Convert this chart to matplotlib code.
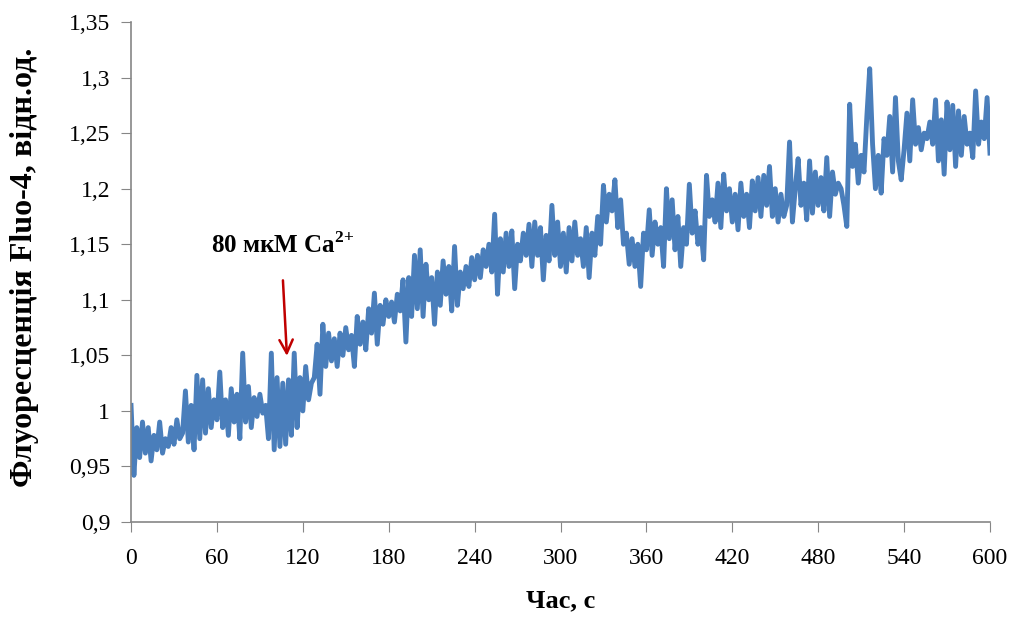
import numpy as np
import matplotlib
matplotlib.use('Agg')
import matplotlib.pyplot as plt
from matplotlib.ticker import FuncFormatter, MultipleLocator

plt.rcParams['font.family'] = ['Liberation Serif', 'DejaVu Serif']
plt.rcParams['mathtext.fontset'] = 'custom'
plt.rcParams['mathtext.rm'] = 'Liberation Serif'
plt.rcParams['mathtext.bf'] = 'Liberation Serif:bold'

fluo = [
    1.005, 0.942, 0.985, 0.958, 0.990, 0.962, 0.985, 0.955, 0.978, 0.965,
    0.990, 0.962, 0.975, 0.968, 0.985, 0.970, 0.992, 0.975, 0.980, 1.018,
    0.972, 1.005, 0.965, 1.032, 0.975, 1.028, 0.980, 1.020, 0.985, 1.010,
    0.992, 1.035, 0.985, 1.010, 0.978, 1.020, 0.990, 1.015, 0.975, 1.052,
    0.990, 1.022, 0.985, 1.012, 0.995, 1.015, 0.998, 1.005, 0.975, 1.052,
    0.965, 1.030, 0.968, 1.025, 0.970, 1.028, 0.978, 1.052, 0.985, 1.030,
    1.000, 1.040, 1.010, 1.025, 1.030, 1.060, 1.015, 1.078, 1.040, 1.070,
    1.045, 1.065, 1.040, 1.070, 1.050, 1.075, 1.055, 1.068, 1.040, 1.085,
    1.060, 1.080, 1.055, 1.092, 1.070, 1.106, 1.060, 1.095, 1.078, 1.100,
    1.085, 1.098, 1.080, 1.105, 1.090, 1.118, 1.062, 1.120, 1.085, 1.140,
    1.092, 1.145, 1.085, 1.132, 1.100, 1.120, 1.078, 1.125, 1.095, 1.135,
    1.105, 1.130, 1.090, 1.148, 1.095, 1.125, 1.110, 1.130, 1.112, 1.138,
    1.118, 1.140, 1.120, 1.145, 1.130, 1.150, 1.125, 1.177, 1.105, 1.155,
    1.125, 1.160, 1.130, 1.162, 1.110, 1.150, 1.135, 1.160, 1.140, 1.168,
    1.130, 1.170, 1.140, 1.165, 1.118, 1.158, 1.135, 1.185, 1.140, 1.170,
    1.130, 1.160, 1.125, 1.165, 1.135, 1.170, 1.140, 1.155, 1.130, 1.165,
    1.120, 1.160, 1.140, 1.175, 1.150, 1.203, 1.170, 1.195, 1.180, 1.208,
    1.165, 1.190, 1.150, 1.160, 1.132, 1.155, 1.130, 1.150, 1.112, 1.160,
    1.145, 1.181, 1.140, 1.170, 1.150, 1.165, 1.130, 1.200, 1.155, 1.190,
    1.145, 1.175, 1.130, 1.165, 1.150, 1.204, 1.160, 1.180, 1.150, 1.165,
    1.136, 1.212, 1.175, 1.190, 1.170, 1.205, 1.165, 1.213, 1.180, 1.200,
    1.170, 1.195, 1.163, 1.205, 1.175, 1.195, 1.165, 1.207, 1.180, 1.210,
    1.175, 1.212, 1.185, 1.220, 1.175, 1.200, 1.170, 1.195, 1.175, 1.185,
    1.242, 1.170, 1.200, 1.227, 1.185, 1.205, 1.172, 1.225, 1.178, 1.215,
    1.185, 1.210, 1.180, 1.228, 1.175, 1.215, 1.195, 1.205, 1.200, 1.185,
    1.166, 1.276, 1.220, 1.240, 1.205, 1.230, 1.215, 1.265, 1.308, 1.240,
    1.200, 1.230, 1.196, 1.245, 1.230, 1.265, 1.215, 1.282, 1.225, 1.208,
    1.235, 1.268, 1.225, 1.280, 1.240, 1.255, 1.235, 1.250, 1.245, 1.260,
    1.240, 1.280, 1.225, 1.262, 1.213, 1.278, 1.235, 1.275, 1.220, 1.270,
    1.230, 1.265, 1.240, 1.250, 1.228, 1.288, 1.240, 1.260, 1.245, 1.282,
    1.232,
]
time_s = np.arange(len(fluo)) * 2

# calcium addition marker
ca_time = 109
ca_label = r'80 мкМ Ca$^{\mathbf{2{+}}}$'

fig = plt.figure(figsize=(10.19, 6.2), dpi=100)
ax = fig.add_axes([0.1286, 0.158, 0.8429, 0.8065])

ax.plot(time_s, fluo, color='#4A7EBB', linewidth=3.5, solid_joinstyle='round')

ax.set_xlim(0, 600)
ax.set_ylim(0.9, 1.35)
ax.xaxis.set_major_locator(MultipleLocator(60))
ax.yaxis.set_major_locator(MultipleLocator(0.05))
ax.yaxis.set_major_formatter(FuncFormatter(lambda v, p: '{:g}'.format(round(v, 2)).replace('.', ',')))

for s in ['top', 'right']:
    ax.spines[s].set_visible(False)
for s in ['left', 'bottom']:
    ax.spines[s].set_color('#868686')
    ax.spines[s].set_linewidth(1.2)
ax.tick_params(axis='both', direction='out', length=7, color='#868686', labelsize=17, pad=8)
ax.tick_params(axis='x', pad=12)

ax.set_xlabel('Час, с', fontsize=19, fontweight='bold', labelpad=14)
ax.set_ylabel('Флуоресценція Fluo-4, відн.од.', fontsize=23, fontweight='bold')
ax.yaxis.set_label_coords(-0.107, 0.51)

ax.annotate('', xy=(ca_time, 1.047), xytext=(106, 1.12),
            arrowprops=dict(arrowstyle='->', color='#C00000', lw=1.8, mutation_scale=24))
ax.text(106, 1.149, ca_label, fontsize=18, fontweight='bold', ha='center', va='center')

fig.savefig('out.png', dpi=100)
